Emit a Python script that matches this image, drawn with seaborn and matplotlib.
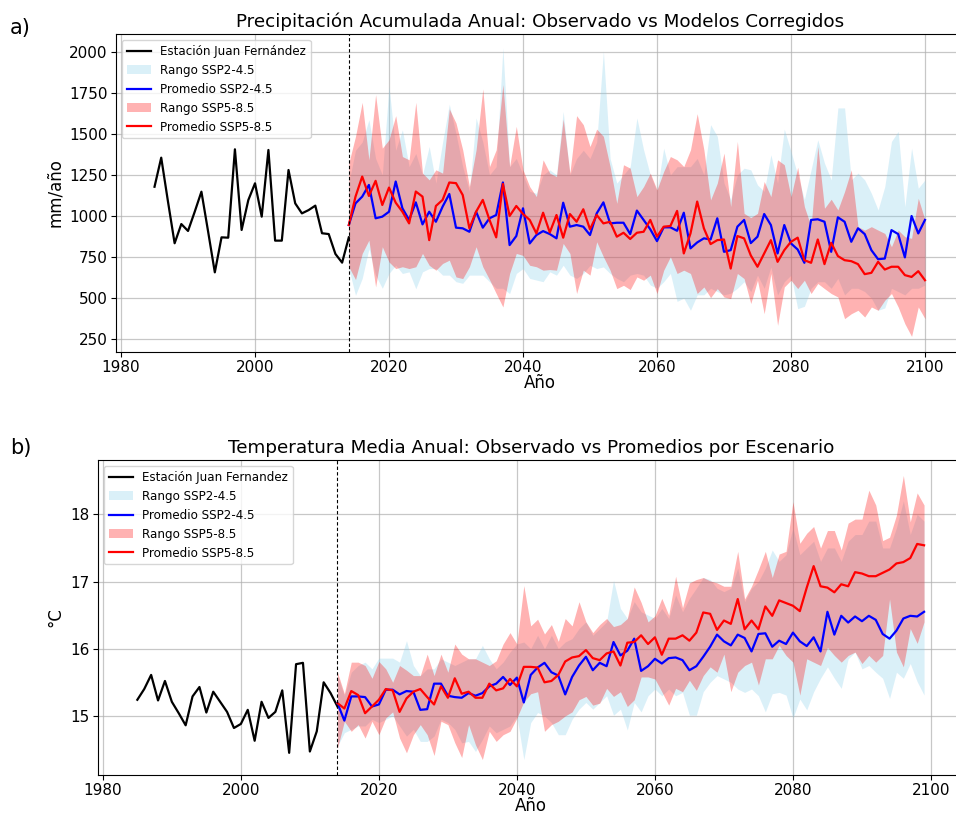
import matplotlib
matplotlib.use("Agg")
import matplotlib.pyplot as plt
import seaborn as sns

# ---------------- data ----------------
obs_years = list(range(1985, 2015))
pr_years = list(range(2014, 2101))
tas_years = list(range(2014, 2100))

# Annual precipitation (mm/año), Juan Fernández station
pr_obs = [1178, 1355, 1090, 834, 951, 909, 1026, 1148, 905, 657,
          870, 868, 1406, 915, 1097, 1199, 996, 1402, 850, 850,
          1280, 1077, 1016, 1036, 1063, 895, 890, 769, 716, 870]

pr_245_mean = [945, 1077, 1118, 1189, 986, 996, 1026, 1210, 1047, 976, 1083, 949, 1026, 965, 1057, 1134,
               929, 925, 904, 1026, 929, 986, 1006, 1204, 823, 878, 1047, 833, 884, 908, 890,
               864, 1081, 935, 945, 935, 884, 1016, 1083, 955, 959, 959, 890, 1033, 976, 919,
               847, 931, 931, 910, 1020, 803, 839, 864, 857, 986, 782, 792, 935, 976, 835,
               874, 1012, 945, 772, 945, 833, 796, 715, 976, 980, 965, 782, 992, 965, 843,
               925, 890, 792, 737, 741, 914, 890, 748, 1000, 894, 976]
pr_245_lo = [680, 517, 620, 800, 640, 560, 650, 700, 650, 660, 557, 660, 680, 680, 640, 640,
             600, 590, 640, 640, 640, 600, 560, 560, 528, 650, 680, 620, 610, 600, 660,
             640, 700, 640, 620, 650, 700, 680, 690, 650, 620, 600, 640, 650, 640, 580,
             560, 600, 650, 480, 500, 426, 520, 520, 560, 540, 520, 530, 560, 600, 540,
             640, 560, 690, 520, 600, 640, 436, 450, 560, 600, 600, 560, 620, 520, 560,
             560, 540, 500, 426, 440, 560, 540, 520, 560, 560, 580]
pr_245_hi = [1200, 1400, 1450, 1586, 1350, 1250, 1790, 1400, 1525, 1300, 1380, 1250, 1423, 1200, 1450, 1680,
             1500, 1300, 1150, 1597, 1450, 1250, 1300, 2024, 1300, 1350, 1250, 1150, 1138, 1250, 1281,
             1250, 1637, 1250, 1350, 1400, 1350, 1450, 2004, 1350, 1200, 1250, 1300, 1597, 1403, 1250,
             1150, 1413, 1250, 1300, 1300, 1300, 1350, 1250, 1556, 1485, 1200, 1100, 1250, 1291, 1281,
             1189, 1150, 1373, 1200, 1529, 1393, 1250, 1100, 1281, 1464, 1322, 1220, 1658, 1658, 1220,
             1261, 1220, 1138, 1037, 1179, 1454, 1515, 1057, 1413, 1169, 1220]

pr_585_mean = [945, 1118, 1240, 1122, 1214, 1067, 1173, 1081, 1026, 955, 1149, 1118, 853, 1061, 1098, 1204,
               1200, 1128, 925, 1026, 1098, 976, 870, 1195, 1000, 1061, 1012, 976, 894, 1020, 900,
               1006, 868, 1012, 965, 1041, 919, 1006, 955, 965, 874, 898, 860, 898, 904, 976,
               874, 935, 939, 1031, 772, 894, 1088, 925, 829, 853, 857, 680, 878, 864, 760,
               691, 772, 853, 721, 792, 843, 868, 731, 715, 857, 707, 837, 756, 731, 725,
               707, 646, 654, 721, 674, 691, 691, 640, 629, 664, 609]
pr_585_lo = [691, 613, 772, 853, 568, 813, 720, 680, 691, 680, 691, 772, 700, 670, 711, 731,
             629, 619, 691, 813, 691, 613, 528, 446, 650, 772, 760, 700, 691, 670, 674,
             670, 833, 772, 528, 670, 640, 843, 752, 670, 558, 578, 552, 629, 609, 640,
             528, 670, 752, 650, 670, 650, 528, 568, 503, 558, 507, 497, 650, 619, 467,
             609, 405, 650, 334, 568, 609, 558, 609, 528, 589, 558, 528, 507, 375, 405,
             426, 385, 446, 426, 487, 528, 446, 344, 267, 446, 375]
pr_585_hi = [1322, 1485, 1692, 1342, 1739, 1413, 1464, 1611, 1362, 1342, 1692, 1261, 1220, 1281, 1261, 1652,
             1566, 1403, 1179, 1403, 1774, 1301, 1403, 1800, 1301, 1546, 1281, 1179, 1118, 1342, 1261,
             1240, 1590, 1261, 1611, 1556, 1423, 1529, 1485, 1301, 1077, 1312, 1291, 1118, 1179, 1261,
             1159, 1271, 1362, 1342, 1301, 1403, 1623, 1403, 1098, 1200, 1383, 1057, 1454, 1016, 990,
             1016, 1210, 1118, 1342, 1312, 1118, 1297, 1057, 935, 1423, 1047, 1102, 1037, 1149, 1281,
             935, 914, 935, 914, 894, 813, 914, 874, 864, 1108, 976]

# Annual mean temperature (°C)
tas_obs = [15.24, 15.40, 15.61, 15.23, 15.52, 15.21, 15.04, 14.86, 15.29, 15.43,
           15.05, 15.36, 15.21, 15.06, 14.82, 14.88, 15.09, 14.63, 15.21, 14.97,
           15.06, 15.38, 14.45, 15.77, 15.79, 14.47, 14.77, 15.50, 15.34, 15.14]

tas_245_mean = [15.19, 14.93, 15.29, 15.29, 15.28, 15.14, 15.17, 15.39, 15.39, 15.32, 15.37, 15.36, 15.09, 15.10, 15.48,
                15.48, 15.30, 15.28, 15.27, 15.34, 15.30, 15.34, 15.44, 15.48, 15.58, 15.46, 15.57, 15.20, 15.61, 15.72,
                15.79, 15.65, 15.60, 15.32, 15.58, 15.75, 15.88, 15.68, 15.79, 15.74, 16.10, 15.90, 15.97, 16.15, 15.67,
                15.74, 15.85, 15.78, 15.86, 15.87, 15.83, 15.68, 15.74, 15.88, 16.03, 16.21, 16.11, 16.05, 16.21,
                16.16, 15.96, 16.22, 16.23, 16.03, 16.12, 16.07, 16.24, 16.11, 16.04, 16.17, 15.96, 16.55, 16.21,
                16.49, 16.39, 16.48, 16.41, 16.49, 16.43, 16.22, 16.15, 16.27, 16.45, 16.49, 16.48, 16.55]
tas_245_lo = [14.55, 14.75, 14.80, 14.85, 14.85, 14.95, 14.90, 14.95, 15.00, 14.85, 14.70, 14.80, 14.62, 14.62, 14.70,
              14.95, 14.90, 14.80, 14.60, 14.62, 14.47, 14.65, 14.85, 14.75, 14.80, 14.85, 15.00, 14.35, 14.90, 15.05,
              15.00, 14.90, 14.72, 14.72, 14.95, 15.10, 15.20, 15.10, 15.20, 15.30, 15.01, 15.10, 14.79, 15.20, 15.06,
              15.30, 15.40, 15.30, 15.40, 15.30, 15.35, 15.01, 15.01, 15.36, 15.50, 15.60, 15.55, 15.50, 15.40,
              15.35, 15.40, 15.30, 15.06, 15.33, 15.35, 15.31, 14.97, 15.25, 15.09, 15.36, 15.56, 15.73, 15.56,
              15.41, 15.85, 15.95, 15.70, 15.75, 15.65, 15.56, 15.26, 15.65, 15.56, 15.78, 15.51, 15.31]
tas_245_hi = [15.60, 15.30, 15.65, 15.75, 15.80, 15.70, 15.86, 15.86, 15.86, 15.80, 16.12, 15.75, 15.60, 15.70, 15.70,
              15.85, 15.80, 15.75, 15.80, 15.85, 15.85, 16.05, 15.85, 15.70, 15.80, 15.95, 16.07, 16.10, 16.00, 16.20,
              16.00, 16.20, 16.00, 16.10, 16.15, 16.30, 16.40, 16.20, 16.30, 16.40, 17.02, 16.60, 16.45, 16.70, 16.55,
              16.50, 16.45, 16.60, 16.45, 16.80, 16.55, 16.75, 16.90, 17.06, 17.03, 16.90, 16.85, 16.90, 17.20,
              16.70, 16.90, 17.00, 17.20, 17.47, 17.30, 17.40, 17.80, 17.40, 17.50, 17.60, 17.30, 17.50, 17.50,
              17.30, 17.60, 17.70, 17.70, 17.90, 17.90, 17.50, 17.50, 17.80, 18.20, 17.70, 18.00, 17.90]

tas_585_mean = [15.19, 15.11, 15.37, 15.31, 15.04, 15.14, 15.24, 15.40, 15.38, 15.06, 15.26, 15.36, 15.40, 15.28, 15.17,
                15.44, 15.27, 15.56, 15.33, 15.36, 15.27, 15.27, 15.48, 15.38, 15.41, 15.55, 15.44, 15.73, 15.73, 15.72,
                15.50, 15.52, 15.61, 15.81, 15.87, 15.89, 15.98, 15.86, 15.83, 15.93, 15.96, 15.75, 16.09, 16.10, 16.20,
                16.07, 16.17, 15.91, 16.15, 16.15, 16.20, 16.12, 16.24, 16.54, 16.52, 16.28, 16.42, 16.37, 16.74,
                16.29, 16.42, 16.29, 16.63, 16.49, 16.72, 16.68, 16.64, 16.56, 16.91, 17.23, 16.93, 16.91, 16.84,
                16.96, 16.93, 17.14, 17.12, 17.08, 17.08, 17.13, 17.18, 17.27, 17.29, 17.35, 17.56, 17.54]
tas_585_lo = [14.52, 14.92, 14.77, 14.87, 14.67, 14.92, 14.72, 14.97, 15.06, 14.67, 14.45, 14.72, 14.87, 14.72, 14.41,
              14.92, 14.87, 14.60, 14.38, 14.87, 14.57, 14.35, 14.77, 14.62, 14.72, 14.77, 14.97, 15.21, 15.33, 15.36,
              14.77, 14.87, 14.92, 15.00, 15.06, 15.24, 15.29, 15.16, 15.19, 15.41, 15.29, 15.36, 15.14, 15.24, 15.58,
              15.58, 15.55, 15.36, 15.16, 15.41, 15.36, 15.53, 15.38, 15.60, 15.73, 15.65, 15.92, 15.36, 15.65,
              15.75, 15.80, 15.46, 15.85, 15.85, 16.05, 15.90, 15.80, 15.31, 15.85, 15.80, 15.75, 16.02, 15.90,
              15.80, 15.90, 15.95, 15.78, 15.90, 15.80, 15.90, 16.74, 15.95, 15.73, 16.30, 16.08, 16.40]
tas_585_hi = [15.65, 15.33, 15.80, 15.80, 15.75, 15.56, 15.81, 15.70, 15.50, 15.75, 15.68, 15.60, 15.60, 15.92, 15.60,
              15.92, 15.65, 16.07, 15.92, 15.85, 15.85, 15.80, 15.75, 15.82, 16.07, 16.24, 16.07, 16.94, 16.34, 16.44,
              16.22, 16.36, 16.11, 16.45, 16.34, 16.70, 16.40, 16.24, 16.36, 16.45, 16.33, 16.36, 16.45, 16.92, 16.69,
              16.40, 16.49, 16.75, 16.50, 17.08, 16.61, 16.98, 17.03, 17.06, 17.01, 16.98, 16.93, 16.93, 17.45,
              16.74, 16.93, 17.18, 17.45, 17.06, 17.41, 17.45, 18.19, 17.57, 17.72, 17.82, 17.50, 17.76, 17.76,
              17.47, 17.87, 17.93, 17.93, 18.36, 18.14, 17.61, 17.66, 17.99, 18.58, 17.89, 18.32, 18.14]

# ---------------- drawing ----------------
TICK_FS = 11
LABEL_FS = 12
TITLE_FS = 13.2
LEGEND_FS = 8.6


def draw_panel(ax, years, obs, obs_label, lo245, hi245, mean245, lo585, hi585, mean585):
    h_obs = sns.lineplot(x=obs_years, y=obs, ax=ax, color="black", linewidth=1.6,
                         label=obs_label).lines[-1]
    h_r245 = ax.fill_between(years, lo245, hi245, color="skyblue", alpha=0.3,
                             linewidth=0, label="Rango SSP2-4.5")
    h_m245 = sns.lineplot(x=years, y=mean245, ax=ax, color="blue", linewidth=1.6,
                          label="Promedio SSP2-4.5").lines[-1]
    h_r585 = ax.fill_between(years, lo585, hi585, color="red", alpha=0.3,
                             linewidth=0, label="Rango SSP5-8.5")
    h_m585 = sns.lineplot(x=years, y=mean585, ax=ax, color="red", linewidth=1.6,
                          label="Promedio SSP5-8.5").lines[-1]
    ax.axvline(2014, color="black", linestyle=(0, (3, 2)), linewidth=0.8)
    handles = [h_obs, h_r245, h_m245, h_r585, h_m585]
    ax.legend(handles=handles, labels=[h.get_label() for h in handles],
              loc="upper left", fontsize=LEGEND_FS)
    ax.grid(True, color="#b0b0b0", alpha=0.7, linewidth=0.9)
    ax.set_axisbelow(True)
    ax.tick_params(labelsize=TICK_FS, pad=2.5)
    ax.set_xticks([1980, 2000, 2020, 2040, 2060, 2080, 2100])
    ax.set_xlabel("Año", fontsize=LABEL_FS, labelpad=-1)


W, H = 956, 817
fig = plt.figure(figsize=(W / 100, H / 100), dpi=100)

ax1 = fig.add_axes([116 / W, 1 - 352 / H, (963.5 - 116) / W, (352 - 34) / H])
draw_panel(ax1, pr_years, pr_obs, "Estación Juan Fernández",
           pr_245_lo, pr_245_hi, pr_245_mean, pr_585_lo, pr_585_hi, pr_585_mean)
ax1.set_xlim(1979.25, 2105.75)
ax1.set_ylim(172, 2108)
ax1.set_yticks([250, 500, 750, 1000, 1250, 1500, 1750, 2000])
ax1.set_ylabel("mm/año", fontsize=LABEL_FS)
ax1.set_title("Precipitación Acumulada Anual: Observado vs Modelos Corregidos",
              fontsize=TITLE_FS, pad=5)

ax2 = fig.add_axes([98 / W, 1 - 775 / H, (963.4 - 98) / W, (775 - 460) / H])
draw_panel(ax2, tas_years, tas_obs, "Estación Juan Fernandez",
           tas_245_lo, tas_245_hi, tas_245_mean, tas_585_lo, tas_585_hi, tas_585_mean)
ax2.set_xlim(1979.3, 2104.7)
ax2.set_ylim(14.12, 18.81)
ax2.set_yticks([15, 16, 17, 18])
ax2.set_ylabel("°C", fontsize=LABEL_FS)
ax2.set_title("Temperatura Media Anual: Observado vs Promedios por Escenario",
              fontsize=TITLE_FS, pad=5)

fig.text(10 / W, 1 - 28 / H, "a)", fontsize=15, va="center", ha="left")
fig.text(10 / W, 1 - 448 / H, "b)", fontsize=15, va="center", ha="left")

fig.savefig("out.png", dpi=100)
